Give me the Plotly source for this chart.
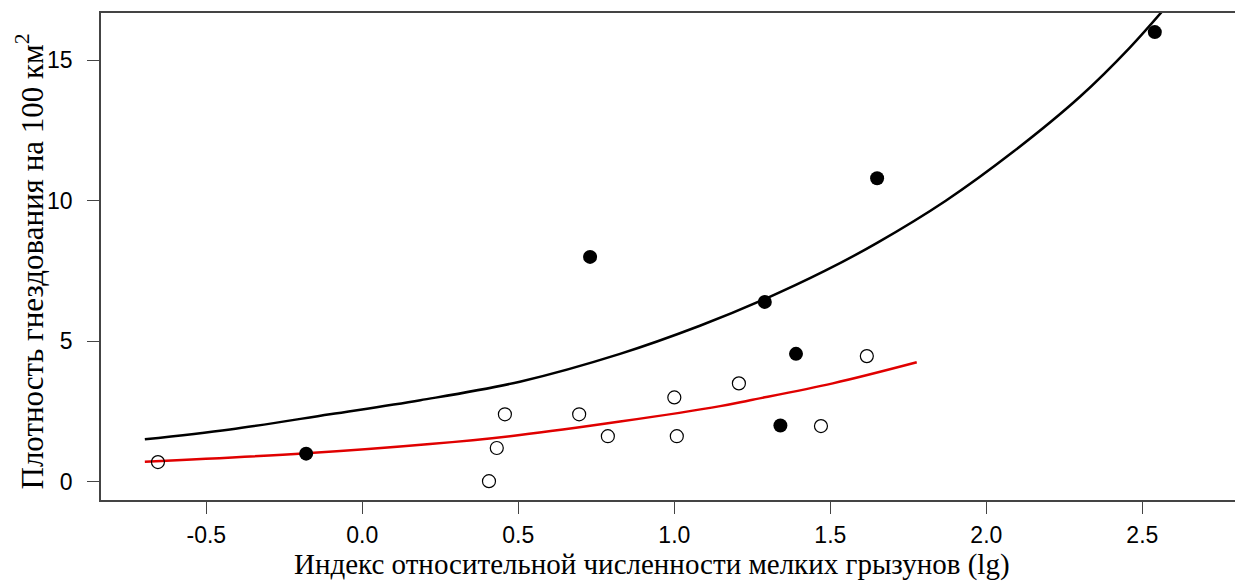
import plotly.graph_objects as go

# Filled points (black)
filled_x = [-0.18, 0.73, 1.29, 1.39, 1.34, 1.65, 2.54]
filled_y = [1.0, 8.0, 6.4, 4.55, 2.0, 10.8, 16.0]

# Open points
open_x = [-0.655, 0.406, 0.431, 0.457, 0.695, 0.787, 1.0, 1.008, 1.207, 1.47, 1.617]
open_y = [0.70, 0.02, 1.2, 2.4, 2.4, 1.62, 3.0, 1.62, 3.5, 1.98, 4.47]

# Fitted curve (black)
black_x = [-0.697, -0.424, -0.104, 0.186, 0.505, 0.826, 1.082, 1.29, 1.482, 1.65,
           1.87, 2.087, 2.30, 2.46, 2.58]
black_y = [1.51, 1.86, 2.40, 2.90, 3.56, 4.55, 5.55, 6.50, 7.50, 8.50,
           10.0, 11.75, 13.70, 15.45, 16.95]

# Fitted curve (red)
red_x = [-0.697, -0.18, 0.217, 0.505, 0.826, 1.147, 1.243, 1.508, 1.777]
red_y = [0.71, 1.01, 1.34, 1.66, 2.14, 2.69, 2.90, 3.50, 4.25]

x_ticks = [-0.5, 0.0, 0.5, 1.0, 1.5, 2.0, 2.5]
x_labels = ["-0.5", "0.0", "0.5", "1.0", "1.5", "2.0", "2.5"]
y_ticks = [0, 5, 10, 15]
y_labels = ["0", "5", "10", "15"]

x_title = "Индекс относительной численности мелких грызунов (lg)"
y_title = "Плотность гнездования на 100 км<sup>2</sup>"

fig = go.Figure()
fig.add_trace(go.Scatter(x=black_x, y=black_y, mode="lines",
                         line=dict(color="black", width=2.5, shape="spline", smoothing=1.0),
                         hoverinfo="skip"))
fig.add_trace(go.Scatter(x=red_x, y=red_y, mode="lines",
                         line=dict(color="#e00000", width=2.5, shape="spline", smoothing=1.0),
                         hoverinfo="skip"))
fig.add_trace(go.Scatter(x=open_x, y=open_y, mode="markers",
                         marker=dict(symbol="circle-open", size=13, color="black",
                                     line=dict(width=1.2, color="black"))))
fig.add_trace(go.Scatter(x=filled_x, y=filled_y, mode="markers",
                         marker=dict(symbol="circle", size=14, color="black")))

axis_common = dict(showgrid=False, zeroline=False, ticks="outside", ticklen=12,
                   tickwidth=1.3, tickcolor="#444", linecolor="#444", linewidth=1.5,
                   showline=True,
                   tickfont=dict(family="Liberation Sans, Arial", size=23, color="black"))

fig.update_layout(
    width=1235, height=581,
    margin=dict(l=101, r=0, t=13, b=81),
    paper_bgcolor="white", plot_bgcolor="white",
    showlegend=False,
    xaxis=dict(range=[-0.8375, 2.797], tickvals=x_ticks, ticktext=x_labels,
               mirror=True, ticklabelstandoff=2, **axis_common),
    yaxis=dict(range=[-0.65, 16.68], tickvals=y_ticks, ticktext=y_labels,
               ticklabelstandoff=10, **axis_common),
    annotations=[
        dict(text=x_title, xref="paper", yref="paper", x=0.5, y=0,
             xanchor="center", yanchor="middle", xshift=-16, yshift=-64,
             showarrow=False,
             font=dict(family="Liberation Serif, Times New Roman", size=29, color="black")),
        dict(text=y_title, xref="paper", yref="paper", x=0, y=0.5,
             xanchor="center", yanchor="middle", xshift=-71, yshift=-5,
             textangle=-90, showarrow=False,
             font=dict(family="Liberation Serif, Times New Roman", size=31, color="black")),
    ],
)

fig.write_html("out.html")
